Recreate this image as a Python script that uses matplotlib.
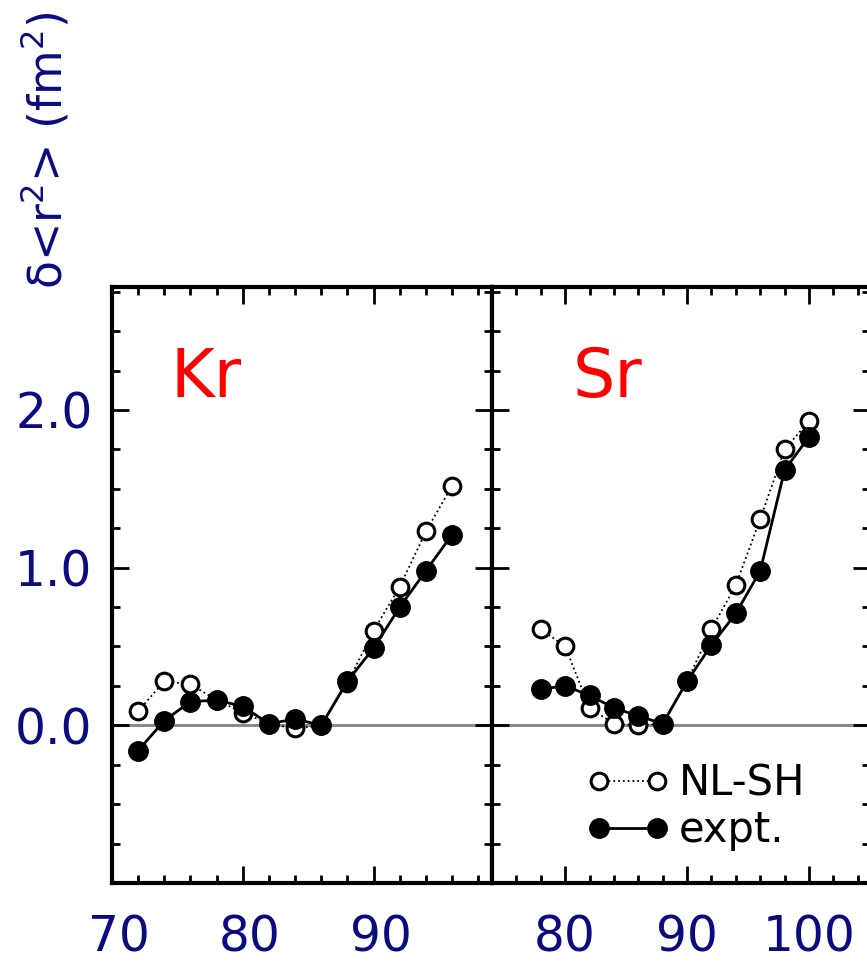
import matplotlib
matplotlib.use("Agg")
import matplotlib.pyplot as plt
from matplotlib.ticker import MultipleLocator, FormatStrFormatter
from matplotlib.transforms import ScaledTranslation

# Kr isotopes
kr_a = [72, 74, 76, 78, 80, 82, 84, 86, 88, 90, 92, 94, 96]
kr_nlsh = [0.09, 0.28, 0.26, 0.16, 0.08, 0.01, -0.02, 0.0, 0.27, 0.60, 0.88, 1.23, 1.52]
kr_expt = [-0.16, 0.03, 0.15, 0.16, 0.12, 0.01, 0.04, 0.0, 0.28, 0.49, 0.75, 0.98, 1.21]

# Sr isotopes
sr_a = [78, 80, 82, 84, 86, 88, 90, 92, 94, 96, 98, 100]
sr_nlsh = [0.61, 0.50, 0.11, 0.01, 0.00, 0.01, 0.28, 0.61, 0.89, 1.31, 1.75, 1.93]
sr_expt = [0.23, 0.25, 0.19, 0.11, 0.06, 0.01, 0.28, 0.51, 0.71, 0.98, 1.62, 1.83]

NAVY = "#0b0b80"

fig = plt.figure(figsize=(8.67, 9.65), dpi=100)
ax_kr = fig.add_axes([112 / 867, 1 - 883 / 965, 380 / 867, 596 / 965])
ax_sr = fig.add_axes([492 / 867, 1 - 883 / 965, 378 / 867, 596 / 965])


def draw_panel(ax, a, nlsh, expt, name, xlim, xticks, name_x):
    ax.axhline(0, color="#8a8a8a", lw=2.2, zorder=1)
    ax.plot(a, nlsh, ls=":", color="black", lw=1.3, marker="o", ms=12,
            mfc="white", mec="black", mew=2.2, label="NL-SH", zorder=3)
    ax.plot(a, expt, ls="-", color="black", lw=2.0, marker="o", ms=14,
            mfc="black", mec="black", label="expt.", zorder=4)
    ax.set_xlim(*xlim)
    ax.set_ylim(-1.0, 2.78)
    ax.set_xticks(xticks)
    ax.set_yticks([0.0, 1.0, 2.0])
    ax.xaxis.set_minor_locator(MultipleLocator(2))
    ax.yaxis.set_minor_locator(MultipleLocator(0.25))
    ax.tick_params(which="both", direction="in", top=True, right=True,
                   width=2, color="black")
    ax.tick_params(which="major", length=12)
    ax.tick_params(which="minor", length=6)
    ax.tick_params(axis="x", which="major", pad=22, labelsize=35, labelcolor=NAVY)
    ax.tick_params(axis="y", which="major", pad=14, labelsize=35, labelcolor=NAVY)
    for sp in ax.spines.values():
        sp.set_linewidth(3)
    ax.text(name_x, 0.815, name, color="red", fontsize=48,
            transform=ax.transAxes, ha="left", va="baseline")


draw_panel(ax_kr, kr_a, kr_nlsh, kr_expt, "Kr", (70, 99.05), [70, 80, 90], 0.153)
draw_panel(ax_sr, sr_a, sr_nlsh, sr_expt, "Sr", (74, 105), [80, 90, 100], 0.213)

ax_kr.yaxis.set_major_formatter(FormatStrFormatter("%.1f"))
ax_sr.tick_params(axis="y", which="both", labelleft=False)

# Kr x labels sit a little right of their ticks in the original
shift = ScaledTranslation(7 / 100, 0, fig.dpi_scale_trans)
for lbl in ax_kr.get_xticklabels():
    lbl.set_transform(lbl.get_transform() + shift)

leg = ax_sr.legend(loc="lower left", bbox_to_anchor=(0.205, 0.025), numpoints=2,
                   frameon=False, fontsize=30, handlelength=2.0,
                   handletextpad=0.22, labelspacing=0.12, borderaxespad=0)

fig.text(46 / 867, 1 - 150 / 965, "δ<r$^{2}$> (fm$^{2}$)", rotation=90,
         color=NAVY, fontsize=33, ha="center", va="center")

fig.savefig("out.png", dpi=100)
